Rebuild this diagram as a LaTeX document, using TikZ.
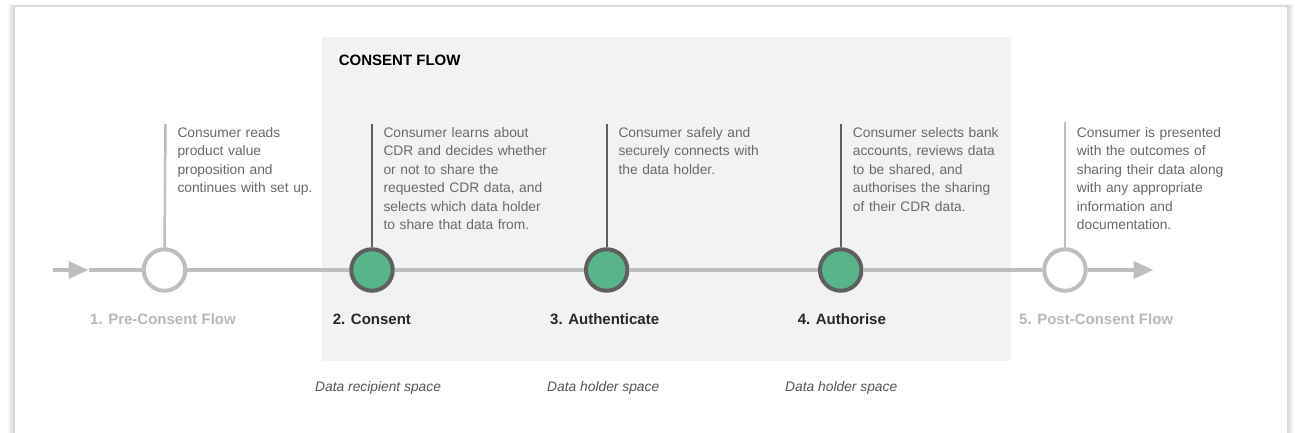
\documentclass[tikz,border=0pt]{standalone}
\usepackage{fontspec}
\setmainfont{Liberation Sans}
\usetikzlibrary{arrows.meta}
\definecolor{lineg}{RGB}{190,190,190}
\definecolor{darkg}{RGB}{95,95,95}
\definecolor{stepgreen}{RGB}{88,181,138}
\definecolor{boxg}{RGB}{242,242,242}
\definecolor{txtg}{RGB}{105,105,105}
\definecolor{lblg}{RGB}{185,185,185}
\definecolor{lbld}{RGB}{40,40,40}
\definecolor{itg}{RGB}{85,85,85}
\tikzset{
  mainline/.style={draw=lineg, line width=4pt},
  openstep/.style={circle, draw=lineg, fill=white, line width=4pt, minimum size=41.5pt, inner sep=0pt},
  greenstep/.style={circle, draw=darkg, fill=stepgreen, line width=4pt, minimum size=41.5pt, inner sep=0pt},
  lightstem/.style={draw=lineg, line width=2.5pt},
  darkstem/.style={draw=darkg, line width=2.2pt},
  desc/.style={anchor=base west, inner sep=0pt, text width=170pt, align=left, text=txtg, font=\fontsize{13.8}{18.5}\selectfont},
  steplabel/.style={anchor=base west, inner sep=0pt, font=\fontsize{15}{18}\selectfont\bfseries},
  spacelabel/.style={anchor=base west, inner sep=0pt, text=itg, font=\fontsize{13.8}{18}\selectfont\itshape},
}
\begin{document}
\begin{tikzpicture}[x=1pt, y=-1pt]
\useasboundingbox (0,0) rectangle (1295,433);
\fill[white] (0,0) rectangle (1295,433);
% card shadow
\foreach \i in {1,...,7}{
  \fill[black, opacity=0.025] (15-\i,6.7-0.4*\i) rectangle (1287+\i,440);
}
\fill[white] (15,6.7) rectangle (1287,440);
% consent flow box
\fill[boxg] (322,36.7) rectangle (1011,360.7);
\node[anchor=base west, inner sep=0pt, font=\fontsize{15}{18}\selectfont\bfseries] (title) at (338.7,66) {CONSENT FLOW};

% coordinates
\coordinate (start) at (53,270);
\coordinate (tipA) at (88.5,270);
\coordinate (tipB) at (1153.5,270);
\coordinate (t1) at (165.5,124);
\coordinate (t2) at (372,124);
\coordinate (t3) at (606.7,124);
\coordinate (t4) at (840.7,124);
\coordinate (t5) at (1065,121.7);

% circles
\node[openstep] (c1) at (164.5,270) {};
\node[greenstep] (c2) at (372,270) {};
\node[greenstep] (c3) at (606.7,270) {};
\node[greenstep] (c4) at (840.7,270) {};
\node[openstep] (c5) at (1065,270) {};

% main line
\draw[mainline, -{Triangle[length=20pt,width=17pt]}] (start) -- (tipA);
\draw[mainline] (tipA) -- (c1);
\draw[mainline] (c1) -- (c2);
\draw[mainline] (c2) -- (c3);
\draw[mainline] (c3) -- (c4);
\draw[mainline] (c4) -- (c5);
\draw[mainline, -{Triangle[length=20pt,width=17pt]}] (c5) -- (tipB);

% stems
\draw[lightstem] (t1) -- (c1.north);
\draw[darkstem] (t2) -- (c2.north);
\draw[darkstem] (t3) -- (c3.north);
\draw[darkstem] (t4) -- (c4.north);
\draw[lightstem] (t5) -- (c5.north);

% descriptions
\node[desc] (d1) at (177.3,137.3) {Consumer reads\\product value\\proposition and\\continues with set up.};
\node[desc] (d2) at (383.3,137.3) {Consumer learns about\\CDR and decides whether\\or not to share the\\requested CDR data, and\\selects which data holder\\to share that data from.};
\node[desc] (d3) at (618.3,137.3) {Consumer safely and\\securely connects with\\the data holder.};
\node[desc] (d4) at (852.7,137.3) {Consumer selects bank\\accounts, reviews data\\to be shared, and\\authorises the sharing\\of their CDR data.};
\node[desc] (d5) at (1076.7,137.3) {Consumer is presented\\with the outcomes of\\sharing their data along\\with any appropriate\\information and\\documentation.};

% step labels
\node[steplabel, text=lblg] (l1) at (90,324) {1. Pre-Consent Flow};
\node[steplabel, text=lbld] (l2) at (332.7,324) {2. Consent};
\node[steplabel, text=lbld] (l3) at (550,324) {3. Authenticate};
\node[steplabel, text=lbld] (l4) at (797.6,324) {4. Authorise};
\node[steplabel, text=lblg] (l5) at (1019,324) {5. Post-Consent Flow};

% space labels
\node[spacelabel] (s2) at (315,391.7) {Data recipient space};
\node[spacelabel] (s3) at (547,391.7) {Data holder space};
\node[spacelabel] (s4) at (785,391.7) {Data holder space};
\end{tikzpicture}
\end{document}
